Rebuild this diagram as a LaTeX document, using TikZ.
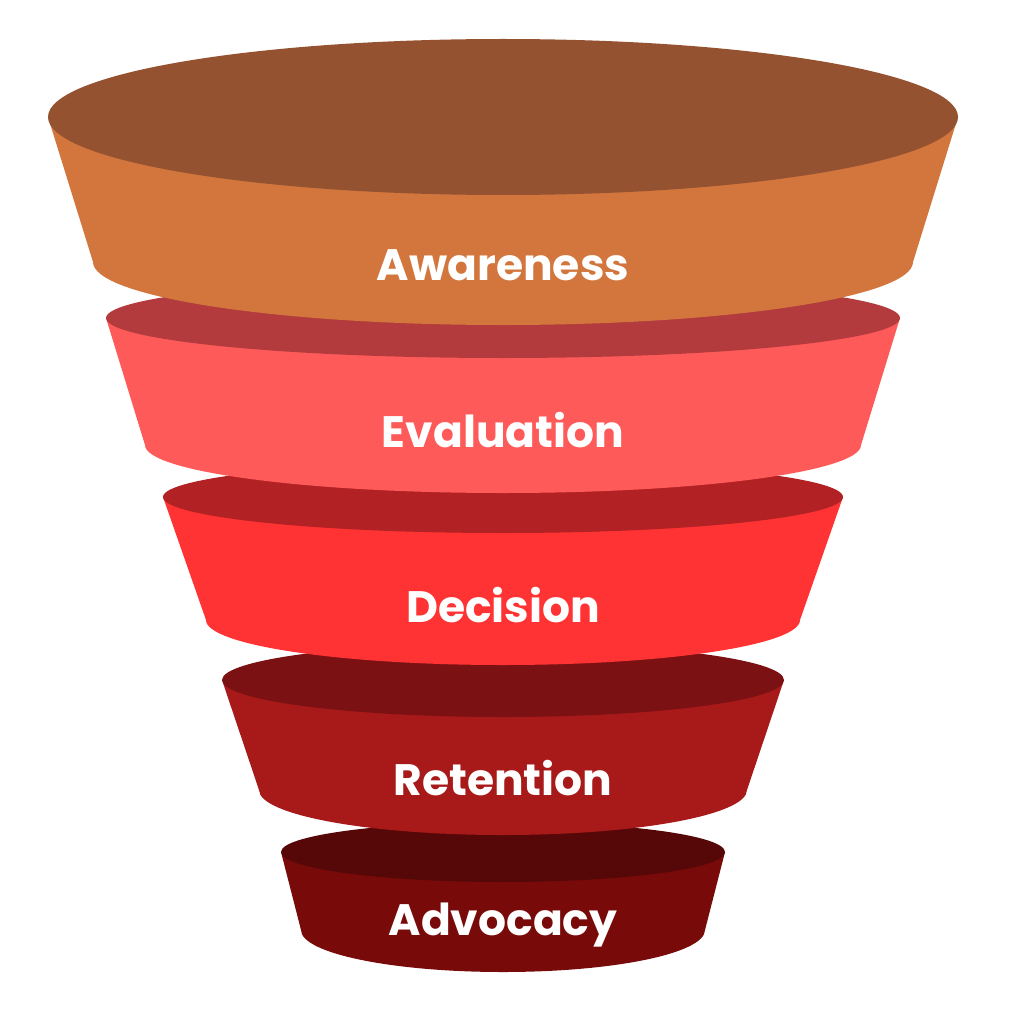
\documentclass[tikz,border=0pt]{standalone}
\usepackage{fontspec}
\setmainfont{Poppins}[BoldFont={* Bold}]
\definecolor{t1}{HTML}{955230}\definecolor{s1}{HTML}{D2763E}
\definecolor{t2}{HTML}{B33B3D}\definecolor{s2}{HTML}{FF5A5A}
\definecolor{t3}{HTML}{B22123}\definecolor{s3}{HTML}{FF3333}
\definecolor{t4}{HTML}{7B1113}\definecolor{s4}{HTML}{A8191A}
\definecolor{t5}{HTML}{560808}\definecolor{s5}{HTML}{780A0A}
\newcommand{\funnellayer}[9]{%
 \fill[#9] (503-#3,#2) -- (503-#6,#5) arc[start angle=180,end angle=0,x radius=#6,y radius=#7] -- (503+#3,#2) -- cycle;
 \fill[#8] (503,#2) ellipse[x radius=#3,y radius=#4];}
\tikzset{lbl/.style={text=white,font=\bfseries\fontsize{44}{48}\selectfont,anchor=center}}
\begin{document}
\begin{tikzpicture}[x=1pt,y=-1pt]
\useasboundingbox (0,0) rectangle (1024,1008);
\funnellayer{503}{852}{222}{30}{930}{202}{42}{t5}{s5}
\funnellayer{503}{680}{281}{37}{790}{244}{45}{t4}{s4}
\funnellayer{503}{497}{340}{36}{620}{297}{45}{t3}{s3}
\funnellayer{503}{318}{397}{40}{445}{358}{48}{t2}{s2}
\funnellayer{503}{117}{455}{78}{262}{410}{63}{t1}{s1}
\node[lbl] (aw) at (503,265) {Awareness};
\node[lbl] (ev) at (503,430) {Evaluation};
\node[lbl] (de) at (503,605) {Decision};
\node[lbl] (re) at (503,778) {Retention};
\node[lbl] (ad) at (503,925) {Advocacy};
\end{tikzpicture}
\end{document}
